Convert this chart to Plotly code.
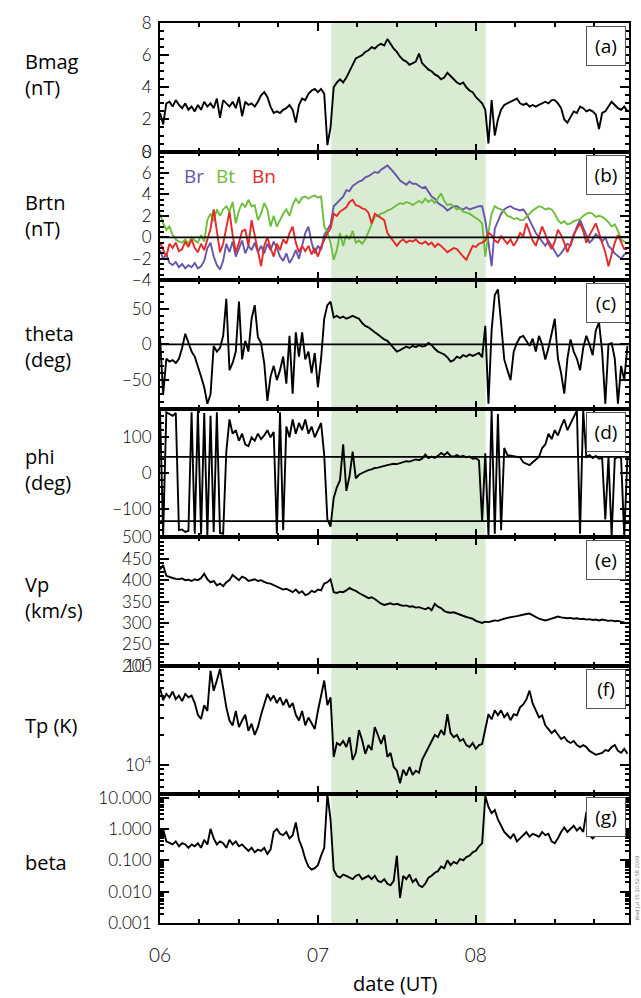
import plotly.graph_objects as go
from plotly.subplots import make_subplots

# time in days since 06 00:00 UT (sampling every 0.02 day)
N = 149
t_days = [round(0.02 * i, 2) for i in range(N)]

bmag = [2.4, 1.7, 3.0, 3.1, 2.8, 3.2, 2.9, 2.7, 3.0, 2.6,
        2.8, 2.5, 2.9, 2.6, 3.1, 2.8, 3.0, 2.7, 3.3, 2.1,
        3.2, 3.0, 2.8, 3.1, 2.7, 3.4, 2.2, 3.1, 2.9, 3.0,
        2.8, 3.1, 3.5, 3.7, 3.4, 2.8, 2.4, 2.5, 2.4, 2.6,
        2.7, 2.9, 2.6, 1.8, 2.9, 3.3, 3.2, 3.6, 3.8, 3.9,
        3.7, 3.9, 3.6, 0.4, 1.5, 4.0, 4.3, 4.5, 4.3, 4.6,
        5.0, 5.5, 5.8, 5.9, 6.0, 6.2, 6.3, 6.5, 6.4, 6.6,
        6.7, 6.6, 7.0, 6.7, 6.4, 6.2, 5.9, 5.7, 5.6, 5.4,
        5.5, 5.6, 6.1, 5.5, 5.3, 5.1, 5.0, 4.8, 4.7, 4.5,
        4.6, 4.9, 4.7, 4.5, 4.3, 4.2, 4.3, 4.0, 3.8, 3.7,
        3.4, 3.2, 3.0, 2.6, 0.5, 3.2, 1.0, 2.0, 2.6, 2.9,
        3.0, 3.1, 3.2, 3.3, 3.0, 2.9, 3.0, 2.8, 2.9, 2.8,
        2.9, 3.0, 3.1, 3.0, 3.2, 3.2, 3.0, 2.7, 2.0, 1.8,
        2.2, 2.5, 2.4, 2.8, 2.7, 2.5, 2.6, 2.5, 2.3, 1.4,
        2.4, 2.5, 2.8, 3.1, 2.9, 2.7, 2.6, 2.8, 2.5]

br = [-1.2, -2.0, -1.6, -2.4, -2.6, -2.3, -2.8, -2.5, -2.9, -2.6,
      -2.8, -2.4, -2.9, -2.7, -2.2, -1.0, -0.5, -1.8, -2.6, -3.0,
      -2.2, -0.6, -1.4, -0.4, -1.8, -1.0, -0.3, -1.5, -0.8, -1.2,
      -0.5, -1.4, -0.8, -1.5, -0.6, -1.2, -0.4, -1.0, -1.8, -2.2,
      -1.5, -2.4, -1.9, -1.2, -2.0, -0.8, 0.4, 1.0, -0.5, -1.5,
      -0.8, -1.2, 0.2, 0.7, 1.2, 2.9, 3.2, 3.5, 3.8, 4.4,
      4.3, 4.8, 5.0, 5.2, 5.3, 5.6, 5.7, 5.9, 6.1, 6.0,
      6.3, 6.5, 6.7, 6.4, 6.1, 5.7, 5.3, 5.1, 4.9, 5.2,
      5.0, 5.0, 4.8, 4.6, 4.7, 4.2, 3.8, 3.6, 3.2, 3.0,
      2.8, 2.5, 2.7, 2.9, 2.9, 2.7, 2.6, 2.8, 2.6, 2.7,
      2.8, 2.9, 2.9, 1.6, -0.5, -2.7, 0.8, 1.6, 2.2, 2.6,
      2.8, 2.9, 2.7, 2.6, 2.5, 2.6, 2.2, 1.6, 1.0, 0.4,
      0.0, -0.4, -0.8, -0.3, -0.8, -1.2, -1.8, -1.5, -1.0, -0.6,
      -0.8, 0.2, 1.0, 1.6, 0.8, 0.2, -0.5, -0.2, 0.3, 0.0,
      -0.4, 0.0, -0.8, -1.1, -1.5, -1.8, -2.0, -1.6, -1.5]

bt = [2.2, 1.3, 0.7, 1.0, 0.2, -0.2, -0.4, -0.5, -0.2, -0.6,
      0.0, -0.3, -0.5, 0.2, -0.4, 1.6, 2.2, 1.5, 2.6, 2.0,
      2.6, 2.9, 2.4, 3.3, 1.3, 2.5, 3.2, 2.8, 3.5, 2.9,
      3.0, 1.6, 2.2, 3.2, 2.6, 1.0, 2.0, 1.0, 1.6, 2.2,
      2.6, 2.0, 3.0, 3.6, 3.2, 3.7, 3.8, 3.6, 3.8, 3.9,
      3.7, 3.8, 1.0, 0.5, -0.5, -2.1, -1.2, 0.4, -0.8, 0.2,
      -0.2, 0.6, -0.5, -0.3, -0.6, -0.2, 0.5, 1.3, 1.9, 2.0,
      2.2, 2.3, 2.5, 2.6, 2.8, 3.0, 3.2, 3.1, 3.3, 3.2,
      3.0, 3.2, 3.4, 3.2, 3.6, 3.3, 3.5, 3.2, 3.6, 4.1,
      3.4, 3.0, 3.1, 2.8, 2.6, 2.7, 2.4, 2.3, 2.2, 2.0,
      1.8, 1.6, 1.3, -1.8, 0.5, 2.2, 2.9, 2.7, 2.6, 2.4,
      2.0, 1.9, 1.7, 1.8, 1.6, 1.6, 1.9, 2.2, 2.5, 2.7,
      2.9, 2.8, 2.6, 2.7, 2.6, 2.2, 1.6, 1.3, 1.5, 1.2,
      1.3, 1.5, 1.6, 1.7, 2.0, 2.2, 2.3, 2.2, 1.9, 2.0,
      1.9, 1.7, 1.4, 1.0, 1.2, 0.6, -0.2, -0.4, -0.5]

bn = [-0.5, -1.2, -1.8, -0.6, -1.0, -0.5, -1.3, -1.1, -0.4, -0.9,
      -0.2, -1.0, -1.4, -0.6, -1.2, -0.2, 0.8, 2.6, 0.5, -1.4,
      -0.6, 1.0, 2.4, 0.2, -1.4, -0.5, 0.6, 0.7, -0.8, 1.6,
      0.2, -1.2, -2.7, -0.8, 0.0, -1.0, -1.8, -0.6, -1.2, -0.2,
      -0.6, 0.4, 1.0, -0.5, -1.4, -0.8, -1.3, -0.8, -1.6, -1.0,
      -1.8, -0.9, -0.3, 0.4, 0.8, 2.2, 2.0, 2.4, 2.6, 2.8,
      3.3, 3.5, 3.0, 2.9, 2.7, 2.6, 2.3, 1.3, 2.2, 2.0,
      1.8, 1.6, 0.4, 0.0, -0.4, -0.8, -0.4, -0.2, -0.5, -0.3,
      -0.4, -0.2, -0.5, -0.6, -0.4, -0.7, -0.5, -0.9, -0.6, -0.8,
      -1.1, -1.4, -1.2, -1.0, -1.1, -1.5, -1.8, -2.1, -1.4, -0.8,
      -0.9, -0.6, -0.5, -0.3, 0.4, 0.2, -0.3, -0.5, 0.1, -0.2,
      -0.6, -0.2, -0.8, -0.3, 0.4, 0.1, 1.3, 0.5, -0.3, -0.8,
      0.2, 1.0, 0.3, -0.6, -1.1, -0.4, 0.7, 0.2, -0.5, -1.4,
      -0.6, 0.3, 0.8, 1.3, 0.6, -0.5, 0.2, 0.8, 1.3, 0.4,
      -0.6, -1.4, -2.7, -1.6, -0.5, 0.2, -0.5, -1.1, -1.1]

theta = [10, -70, -20, -24, -22, -26, -20, -5, 15, 2,
         -10, -17, -30, -45, -60, -83, -70, -2, -10, -5,
         12, 64, -36, -26, -10, 60, -21, 5, -10, 36,
         55, 10, 2, -26, -79, -45, -30, -50, -36, -17,
         -55, 12, -69, 17, -17, 17, -21, -10, -40, -12,
         -60, -20, 36, 55, 60, 38, 40, 37, 39, 36,
         38, 40, 38, 36, 30, 26, 24, 20, 17, 14,
         10, 7, 5, 0, -5, -10, -8, -5, -3, -5,
         -2, -4, -1, -3, -2, 2, -1, -6, -10, -12,
         -14, -18, -24, -22, -17, -19, -15, -17, -14, -16,
         -14, -12, -18, 26, -83, 20, 69, 77, 30, -21,
         -36, -50, -10, 2, 10, 12, 5, -2, 8, -10,
         12, 0, -21, -5, 15, 36, -20, -40, -69, -20,
         7, -10, -20, -36, -5, 12, 0, -15, 20, 31,
         -10, -83, 0, 2, -20, -83, -30, -50, -2]

phi = [175, -175, 170, 165, 160, 168, -160, -158, -165, -162,
       170, -170, 175, -172, 168, -175, 160, -165, 170, -168,
       -170, 60, 150, 110, 120, 90, 110, 80, 75, 100,
       90, 110, 95, 105, 120, 100, 115, -170, 170, -160,
       130, 100, 150, 110, 140, 120, 150, 110, 130, 100,
       120, 140, 50, -130, -150, -70, -40, -20, 80, -50,
       -10, 60, -15, -5, 0, 5, 8, 10, 14, 15,
       18, 20, 22, 24, 26, 25, 28, 30, 33, 32,
       35, 38, 36, 40, 52, 42, 46, 42, 48, 56,
       50, 58, 48, 46, 50, 45, 48, 44, 46, 40,
       42, 35, -135, 55, -175, 175, -170, 165, -160, 70,
       50, 48, 47, 45, 44, 30, 25, 22, 30, 38,
       45, 70, 80, 110, 95, 120, 105, 130, 150, 120,
       140, 160, 175, -170, 175, 45, 50, 42, 48, 40,
       42, -130, 45, -178, 40, 45, 42, -178, 44]

vp = [425, 435, 410, 407, 405, 403, 402, 404, 400, 401,
      398, 402, 400, 405, 415, 402, 395, 398, 388, 392,
      386, 395, 400, 412, 405, 400, 408, 405, 398, 400,
      402, 398, 400, 396, 393, 392, 388, 385, 382, 378,
      380, 376, 372, 378, 370, 374, 365, 368, 375, 372,
      378, 376, 392, 395, 402, 372, 370, 373, 372, 376,
      382, 378, 375, 370, 365, 362, 358, 360, 356, 350,
      345, 342, 344, 346, 343, 345, 342, 340, 341, 338,
      339, 336, 337, 334, 332, 336, 330, 345, 338, 335,
      328, 325, 324, 325, 322, 320, 316, 314, 312, 310,
      305, 302, 300, 303, 302, 304, 306, 305, 308, 310,
      312, 314, 315, 316, 318, 320, 321, 322, 318, 315,
      310, 308, 306, 308, 310, 312, 315, 313, 312, 311,
      312, 310, 311, 309, 310, 308, 309, 307, 308, 306,
      308, 307, 305, 306, 304, 305, 303, 301, 299]

tp = [60000, 45000, 52000, 48000, 55000, 46000, 50000, 44000, 52000, 48000,
      50000, 42000, 32000, 29000, 40000, 35000, 89000, 56000, 71000, 93000,
      60000, 38000, 28000, 25000, 35000, 24000, 28000, 32000, 22000, 26000,
      20000, 24000, 32000, 41000, 52000, 45000, 50000, 42000, 48000, 40000,
      46000, 38000, 42000, 32000, 28000, 35000, 25000, 30000, 26000, 23000,
      35000, 50000, 71000, 40000, 48000, 12000, 16600, 15800, 17400, 15100,
      19000, 11200, 13200, 22400, 17800, 12900, 15800, 14100, 24000, 20000,
      16200, 20000, 12000, 13200, 9500, 8700, 6500, 8900, 7800, 9500,
      7900, 8700, 8300, 11200, 12900, 15100, 17400, 20000, 19000, 22400,
      20000, 32400, 20900, 19000, 20000, 17400, 18200, 15800, 15100, 16600,
      14500, 15800, 16200, 24000, 32400, 28800, 35500, 31600, 35500, 30200,
      33100, 28200, 32400, 31600, 38000, 40700, 45700, 56200, 41700, 35500,
      30200, 31600, 25100, 22900, 20900, 22400, 20000, 18200, 19100, 17400,
      16600, 17400, 15800, 15100, 15800, 15100, 13800, 13200, 12600, 12900,
      13200, 14100, 13800, 15100, 15800, 13800, 13200, 14500, 12900]

beta = [0.5, 1.0, 0.4, 0.35, 0.32, 0.4, 0.28, 0.35, 0.32, 0.25,
        0.32, 0.28, 0.35, 0.25, 0.45, 0.32, 1.0, 0.5, 0.32, 0.4,
        0.35, 0.25, 0.45, 0.32, 0.4, 0.28, 0.32, 0.25, 0.2, 0.25,
        0.18, 0.22, 0.2, 0.25, 0.16, 0.22, 0.8, 1.0, 0.7, 0.63,
        0.8, 0.5, 0.63, 1.6, 0.45, 0.25, 0.11, 0.063, 0.05, 0.056,
        0.07, 0.14, 0.25, 12.6, 2.0, 0.05, 0.032, 0.028, 0.035, 0.032,
        0.028, 0.025, 0.032, 0.035, 0.025, 0.028, 0.032, 0.025, 0.032, 0.022,
        0.02, 0.025, 0.018, 0.016, 0.022, 0.14, 0.0063, 0.032, 0.025, 0.035,
        0.02, 0.025, 0.016, 0.014, 0.018, 0.028, 0.032, 0.04, 0.045, 0.063,
        0.056, 0.1, 0.07, 0.089, 0.079, 0.11, 0.1, 0.126, 0.14, 0.18,
        0.2, 0.28, 0.35, 11.2, 5.0, 3.2, 4.0, 2.0, 1.26, 0.8,
        0.63, 0.5, 0.7, 0.4, 0.5, 0.63, 0.8, 0.56, 0.7, 0.63,
        0.56, 0.8, 0.63, 0.7, 0.4, 0.35, 0.5, 0.8, 1.12, 0.8,
        1.0, 1.26, 0.89, 1.12, 0.8, 3.5, 0.63, 0.5, 0.63, 0.8,
        0.89, 1.0, 0.8, 1.12, 0.89, 0.8, 1.0, 0.8, 0.89]

cloud_start, cloud_end = 1.085, 2.062
day_ticks = [0, 1, 2]
day_labels = ["06", "07", "08"]
panel_letters = ["(a)", "(b)", "(c)", "(d)", "(e)", "(f)", "(g)"]
panel_titles = ["Bmag<br>(nT)", "Brtn<br>(nT)", "theta<br>(deg)", "phi<br>(deg)",
                "Vp<br>(km/s)", "Tp (K)", "beta"]

W, H = 641, 998
ML, MR, MT, MB = 160, 10, 10, 75
PW, PH = W - ML - MR, H - MT - MB

fig = make_subplots(rows=7, cols=1, shared_xaxes=True, vertical_spacing=0)

BLACK = dict(color="black", width=1.9)
fig.add_trace(go.Scatter(x=t_days, y=bmag, mode="lines", line=BLACK), row=1, col=1)
fig.add_trace(go.Scatter(x=t_days, y=br, mode="lines", line=dict(color="#6655aa", width=1.9)), row=2, col=1)
fig.add_trace(go.Scatter(x=t_days, y=bt, mode="lines", line=dict(color="#6ebe3c", width=1.9)), row=2, col=1)
fig.add_trace(go.Scatter(x=t_days, y=bn, mode="lines", line=dict(color="#e62828", width=1.9)), row=2, col=1)
fig.add_trace(go.Scatter(x=t_days, y=theta, mode="lines", line=BLACK), row=3, col=1)
fig.add_trace(go.Scatter(x=t_days, y=phi, mode="lines", line=BLACK), row=4, col=1)
fig.add_trace(go.Scatter(x=t_days, y=vp, mode="lines", line=BLACK), row=5, col=1)
fig.add_trace(go.Scatter(x=t_days, y=tp, mode="lines", line=BLACK), row=6, col=1)
fig.add_trace(go.Scatter(x=t_days, y=beta, mode="lines", line=BLACK), row=7, col=1)

tickfont = dict(family="Lato", size=17, color="black", weight=300)
for r in range(1, 8):
    fig.update_xaxes(row=r, col=1, range=[0, 2.97], showline=True, linecolor="black",
                     linewidth=2, mirror="ticks", ticks="inside", ticklen=8, tickwidth=1.5,
                     tickcolor="black", tickvals=day_ticks, ticktext=day_labels,
                     minor=dict(ticks="inside", ticklen=4, tickcolor="black", dtick=0.25, tick0=0),
                     showgrid=False, zeroline=False,
                     tickfont=dict(family="Lato", size=19, color="black", weight=300),
                     ticklabelstandoff=14)

dec_minor = lambda lo, hi: [m * 10 ** e for e in range(lo, hi) for m in range(2, 10)]
yspecs = [
    dict(range=[0, 8], tickvals=[0, 2, 4, 6, 8], minor=dict(dtick=0.5)),
    dict(range=[-4, 8], tickvals=[-4, -2, 0, 2, 4, 6, 8], minor=dict(dtick=0.5)),
    dict(range=[-90, 90], tickvals=[-50, 0, 50], minor=dict(dtick=10)),
    dict(range=[-180, 180], tickvals=[-100, 0, 100], minor=dict(dtick=20)),
    dict(range=[200, 500], tickvals=[200, 250, 300, 350, 400, 450, 500], minor=dict(dtick=10)),
    dict(type="log", range=[3.7, 5.0], tickvals=[1e4, 1e5], ticktext=["10<sup>4</sup>", "10<sup>5</sup>"],
         minor=dict(tickmode="array", tickvals=dec_minor(3, 5))),
    dict(type="log", range=[-3, 1.1], tickvals=[0.001, 0.01, 0.1, 1, 10],
         ticktext=["0.001", "0.010", "0.100", "1.000", "10.000"],
         minor=dict(tickmode="array", tickvals=dec_minor(-3, 2))),
]
for r, spec in enumerate(yspecs, start=1):
    minor = dict(ticks="inside", ticklen=4, tickcolor="black")
    minor.update(spec.pop("minor"))
    fig.update_yaxes(row=r, col=1, showline=True, linecolor="black", linewidth=2, mirror="ticks",
                     ticks="inside", ticklen=9, tickwidth=1.5, tickcolor="black", minor=minor,
                     showgrid=False, zeroline=False, tickfont=tickfont, ticklabelstandoff=3,
                     **spec)

shapes = [dict(type="rect", xref="x", yref="paper", x0=cloud_start, x1=cloud_end, y0=0, y1=1,
               fillcolor="#d9ebd3", line=dict(width=0), layer="below")]
for yref, yv in [("y2", 0), ("y3", 0), ("y4", 45), ("y4", -135)]:
    shapes.append(dict(type="line", xref="paper", yref=yref, x0=0, x1=1, y0=yv, y1=yv,
                       line=dict(color="black", width=1.8), layer="above"))

annotations = []
label_font = dict(family="Open Sans", size=20, color="black")
title_py = [62, 205, 338, 463, 593, 723, 862]
for i in range(7):
    top = 1 - i / 7
    annotations.append(dict(text=panel_letters[i], xref="paper", yref="paper", x=1, y=top,
                            xanchor="right", yanchor="top", xshift=-3, yshift=-3, showarrow=False,
                            width=36, height=36, borderpad=1, borderwidth=1, bordercolor="#555555",
                            bgcolor="white", font=dict(family="Open Sans", size=19, color="black")))
    annotations.append(dict(text=panel_titles[i], xref="paper", yref="paper",
                            x=(22 - ML) / PW, y=(H - MB - title_py[i]) / PH,
                            xanchor="left", yanchor="middle", align="left", showarrow=False,
                            font=label_font))

for txt, px, col in [("Br", 194, "#6655aa"), ("Bt", 226, "#6ebe3c"), ("Bn", 264, "#e62828")]:
    annotations.append(dict(text=txt, xref="paper", yref="paper", x=(px - ML) / PW,
                            y=(H - MB - 165) / PH, xanchor="center", yanchor="middle",
                            showarrow=False, font=dict(family="Open Sans", size=19, color=col)))

annotations.append(dict(text="date (UT)", xref="paper", yref="paper", x=0.5, y=(H - MB - 984) / PH,
                        xanchor="center", yanchor="middle", showarrow=False, font=label_font))
annotations.append(dict(text="Wed Jul 15 10:52:58 2009", xref="paper", yref="paper",
                        x=(639 - ML) / PW, y=(H - MB - 887) / PH, textangle=-90,
                        xanchor="center", yanchor="middle", showarrow=False,
                        font=dict(family="DejaVu Sans", size=5, color="#777777")))

fig.update_layout(width=W, height=H, margin=dict(l=ML, r=MR, t=MT, b=MB, pad=0),
                  paper_bgcolor="white", plot_bgcolor="rgba(0,0,0,0)", showlegend=False,
                  shapes=shapes, annotations=annotations)

fig.write_html("out.html")
